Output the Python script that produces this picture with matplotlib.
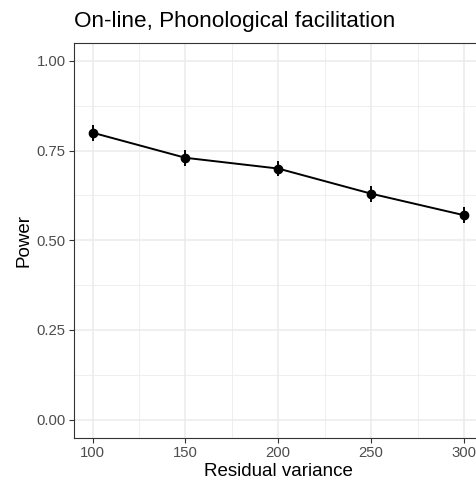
import matplotlib
matplotlib.use("Agg")
import matplotlib.pyplot as plt
from matplotlib.ticker import MultipleLocator

residual_variance = [100, 150, 200, 250, 300]
power = [0.80, 0.73, 0.70, 0.63, 0.57]
err = [0.022, 0.022, 0.022, 0.022, 0.022]
x_ticks = [100, 150, 200, 250, 300]
y_ticks = [0.00, 0.25, 0.50, 0.75, 1.00]
y_ticklabels = ["0.00", "0.25", "0.50", "0.75", "1.00"]

plt.rcParams['font.family'] = ['Liberation Sans', 'DejaVu Sans']
W, H = 476, 483
fig = plt.figure(figsize=(W/100, H/100), dpi=100)
left, right, top, bottom = 74, 482.5, 43, 437.6
ax = fig.add_axes([left/W, 1-bottom/H, (right-left)/W, (bottom-top)/H])

ax.set_xlim(90, 310)
ax.set_ylim(-0.05, 1.05)
ax.set_xticks(x_ticks)
ax.set_yticks(y_ticks)
ax.set_yticklabels(y_ticklabels)
ax.xaxis.set_minor_locator(MultipleLocator(25))
ax.yaxis.set_minor_locator(MultipleLocator(0.125))
ax.grid(which='major', color='#EBEBEB', linewidth=1.1)
ax.grid(which='minor', color='#EBEBEB', linewidth=0.55)
ax.set_axisbelow(True)
ax.tick_params(which='minor', length=0)
ax.tick_params(which='major', length=3.5, width=0.8, color='#333333',
               labelcolor='#4D4D4D', labelsize=10.7, pad=2.5)
for s in ax.spines.values():
    s.set_color('#333333')
    s.set_linewidth(0.8)

ax.errorbar(residual_variance, power, yerr=err, color='black', lw=1.4,
            marker='o', markersize=6, elinewidth=1.4, capsize=0)

ax.set_xlabel("Residual variance", fontsize=13.5, labelpad=2.5)
ax.set_ylabel("Power", fontsize=13.5, labelpad=3)
fig.text(left/W, 1-22/H, "On-line, Phonological facilitation", fontsize=16.2,
         va='center', ha='left')

fig.savefig("out.png", dpi=100)
